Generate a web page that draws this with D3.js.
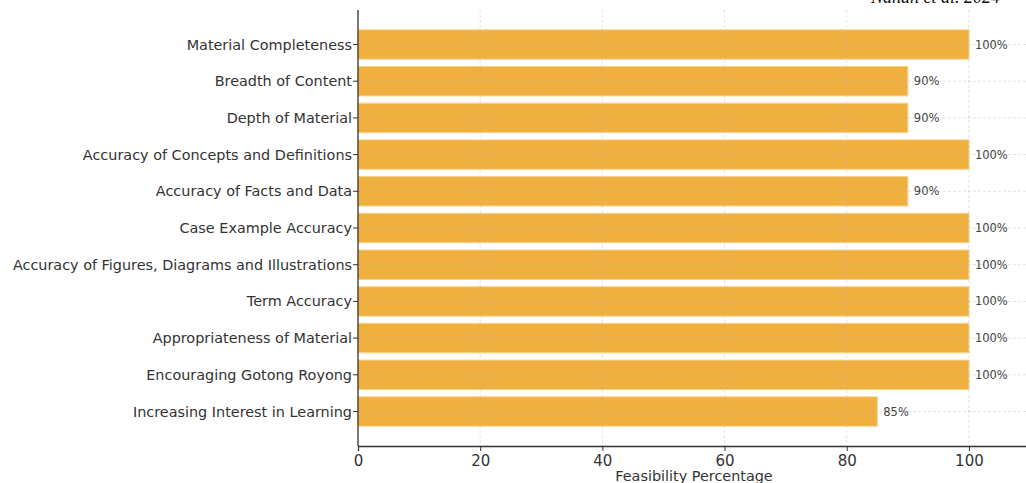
<!DOCTYPE html>
<html>
<head>
<meta charset="utf-8">
<script src="https://cdn.jsdelivr.net/npm/d3@7"></script>
<style>
  body { margin: 0; background: #fff; }
  text { font-family: "DejaVu Sans", sans-serif; }
</style>
</head>
<body>
<div id="container"></div>
<script>
let categories = [
  'Material Completeness',
  'Breadth of Content',
  'Depth of Material',
  'Accuracy of Concepts and Definitions',
  'Accuracy of Facts and Data',
  'Case Example Accuracy',
  'Accuracy of Figures, Diagrams and Illustrations',
  'Term Accuracy',
  'Appropriateness of Material',
  'Encouraging Gotong Royong',
  'Increasing Interest in Learning'
]
let values = [100, 90, 90, 100, 90, 100, 100, 100, 100, 100, 85]
let x_ticks = [0, 20, 40, 60, 80, 100]

let width = 1026,
  height = 483,
  padding = { top: 10, left: 358, bottom: 37, right: -4 },
  inner_w = width - padding.left - padding.right,
  inner_h = height - padding.top - padding.bottom

let svg = d3.select('#container')
  .append('svg')
  .attr('width', width)
  .attr('height', height)

let g = svg.append('g')
  .attr('transform', 'translate(' + padding.left + ',' + padding.top + ')')

let scale_x = d3.scaleLinear()
  .domain([0, 110])
  .range([0, inner_w])

// matplotlib-style band: index from -0.94 to 10.94
let scale_i = d3.scaleLinear()
  .domain([-0.94, 10.94])
  .range([0, inner_h])

let bar_h = scale_i(0.4) - scale_i(-0.4)

// bars
g.selectAll('rect.bar')
  .data(values).enter().append('rect')
  .attr('class', 'bar')
  .attr('x', scale_x(0))
  .attr('y', (d, i) => scale_i(i) - bar_h / 2)
  .attr('width', d => scale_x(d) - scale_x(0))
  .attr('height', bar_h)
  .attr('fill', '#f0b040')
  .attr('stroke', '#f7d088')
  .attr('stroke-width', 1)

// grid
g.selectAll('line.vgrid')
  .data(x_ticks.slice(1)).enter().append('line')
  .attr('class', 'vgrid')
  .attr('x1', d => scale_x(d)).attr('x2', d => scale_x(d))
  .attr('y1', 0).attr('y2', inner_h)
  .attr('stroke', '#b0b0b0').attr('stroke-opacity', 0.45)
  .attr('stroke-dasharray', '3,2').attr('stroke-width', 0.8)

g.selectAll('line.hgrid')
  .data(categories).enter().append('line')
  .attr('class', 'hgrid')
  .attr('x1', 0).attr('x2', inner_w)
  .attr('y1', (d, i) => scale_i(i)).attr('y2', (d, i) => scale_i(i))
  .attr('stroke', '#b0b0b0').attr('stroke-opacity', 0.45)
  .attr('stroke-dasharray', '3,2').attr('stroke-width', 0.8)

// value labels
g.selectAll('text.val')
  .data(values).enter().append('text')
  .attr('class', 'val')
  .attr('x', d => scale_x(d) + 6)
  .attr('y', (d, i) => scale_i(i))
  .attr('dy', '0.35em')
  .attr('font-size', 11.5)
  .attr('fill', '#444')
  .text(d => d + '%')

// y axis
let y_axis = g.append('g')
y_axis.append('line')
  .attr('x1', 0).attr('x2', 0)
  .attr('y1', 0).attr('y2', inner_h)
  .attr('stroke', '#333').attr('stroke-width', 1.3)
let y_tick = y_axis.selectAll('g.tick')
  .data(categories).enter().append('g')
  .attr('class', 'tick')
  .attr('transform', (d, i) => 'translate(0,' + scale_i(i) + ')')
y_tick.append('line')
  .attr('x1', -5).attr('x2', 0)
  .attr('stroke', '#333')
y_tick.append('text')
  .attr('x', -6)
  .attr('dy', '0.35em')
  .attr('text-anchor', 'end')
  .attr('font-size', 14.4)
  .attr('fill', '#333')
  .text(d => d)

// x axis
let x_axis = d3.axisBottom(scale_x)
  .tickValues(x_ticks)
  .tickSizeOuter(0)
  .tickSize(5)
  .tickPadding(4)
let xg = g.append('g')
  .attr('transform', 'translate(0,' + inner_h + ')')
  .call(x_axis)
xg.select('.domain').attr('stroke', '#333').attr('stroke-width', 1.3)
xg.selectAll('.tick line').attr('stroke', '#333')
xg.selectAll('.tick text')
  .attr('font-size', 15)
  .attr('font-family', '"DejaVu Sans", sans-serif')
  .attr('fill', '#333')

g.append('text')
  .attr('x', inner_w / 2)
  .attr('y', inner_h + 35)
  .attr('text-anchor', 'middle')
  .attr('font-size', 14.4)
  .attr('fill', '#333')
  .text('Feasibility Percentage')

// header text, cropped at the top edge as in the source
svg.append('text')
  .attr('x', 871)
  .attr('y', 3)
  .attr('font-style', 'italic')
  .attr('font-size', 18)
  .attr('fill', '#111')
  .style('font-family', '"Liberation Serif", serif')
  .text('Nahan et al. 2024')
</script>
</body>
</html>
